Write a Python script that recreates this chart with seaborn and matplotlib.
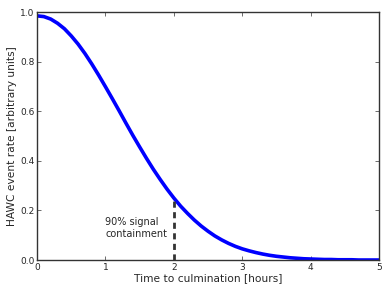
import numpy as np
import pandas as pd
import seaborn as sns
import matplotlib
matplotlib.use("Agg")
import matplotlib.pyplot as plt

# values (every 0.1 h)
hours = [round(0.1 * i, 1) for i in range(51)]
rate = [0.985, 0.982, 0.972, 0.955, 0.933, 0.904, 0.871, 0.833, 0.791, 0.746,
        0.699, 0.651, 0.602, 0.552, 0.503, 0.456, 0.410, 0.366, 0.325, 0.286,
        0.250, 0.217, 0.188, 0.161, 0.137, 0.116, 0.097, 0.081, 0.067, 0.055,
        0.045, 0.037, 0.030, 0.024, 0.019, 0.015, 0.012, 0.009, 0.007, 0.005,
        0.004, 0.003, 0.002, 0.002, 0.001, 0.001, 0.001, 0.0, 0.0, 0.0, 0.0]
cut_hours = 2.0
cut_rate = 0.250
note = "90% signal\ncontainment"

df = pd.DataFrame({"hours": hours, "rate": rate})

sns.set_style("ticks", {"xtick.direction": "in", "ytick.direction": "in"})
plt.rcParams["font.family"] = ["DejaVu Sans"]

fig = plt.figure(figsize=(3.9, 2.93), dpi=100)
ax = fig.add_axes([0.095, 0.1126, 0.877, 0.846])

sns.lineplot(data=df, x="hours", y="rate", color="#0000ff", linewidth=2.6, ax=ax)
ax.plot([cut_hours, cut_hours], [0, cut_rate], color="#333333", linestyle="--",
        linewidth=2, dashes=(2.2, 1.6))
ax.text(1.0, 0.085, note, fontsize=7, va="bottom", ha="left")

ax.set_xlim(0, 5)
ax.set_ylim(0, 1.0)
ax.set_xticks([0, 1, 2, 3, 4, 5])
ax.set_yticks([0.0, 0.2, 0.4, 0.6, 0.8, 1.0])
ax.set_xlabel("Time to culmination [hours]", fontsize=7.7, labelpad=1)
ax.set_ylabel("HAWC event rate [arbitrary units]", fontsize=7.7, labelpad=2)
ax.tick_params(axis="both", labelsize=6.5, length=3, width=0.6, color="#555555",
               top=True, right=True, pad=2)
for s in ax.spines.values():
    s.set_linewidth(1.0)
    s.set_color("#333333")

fig.savefig("out.png", dpi=100)
